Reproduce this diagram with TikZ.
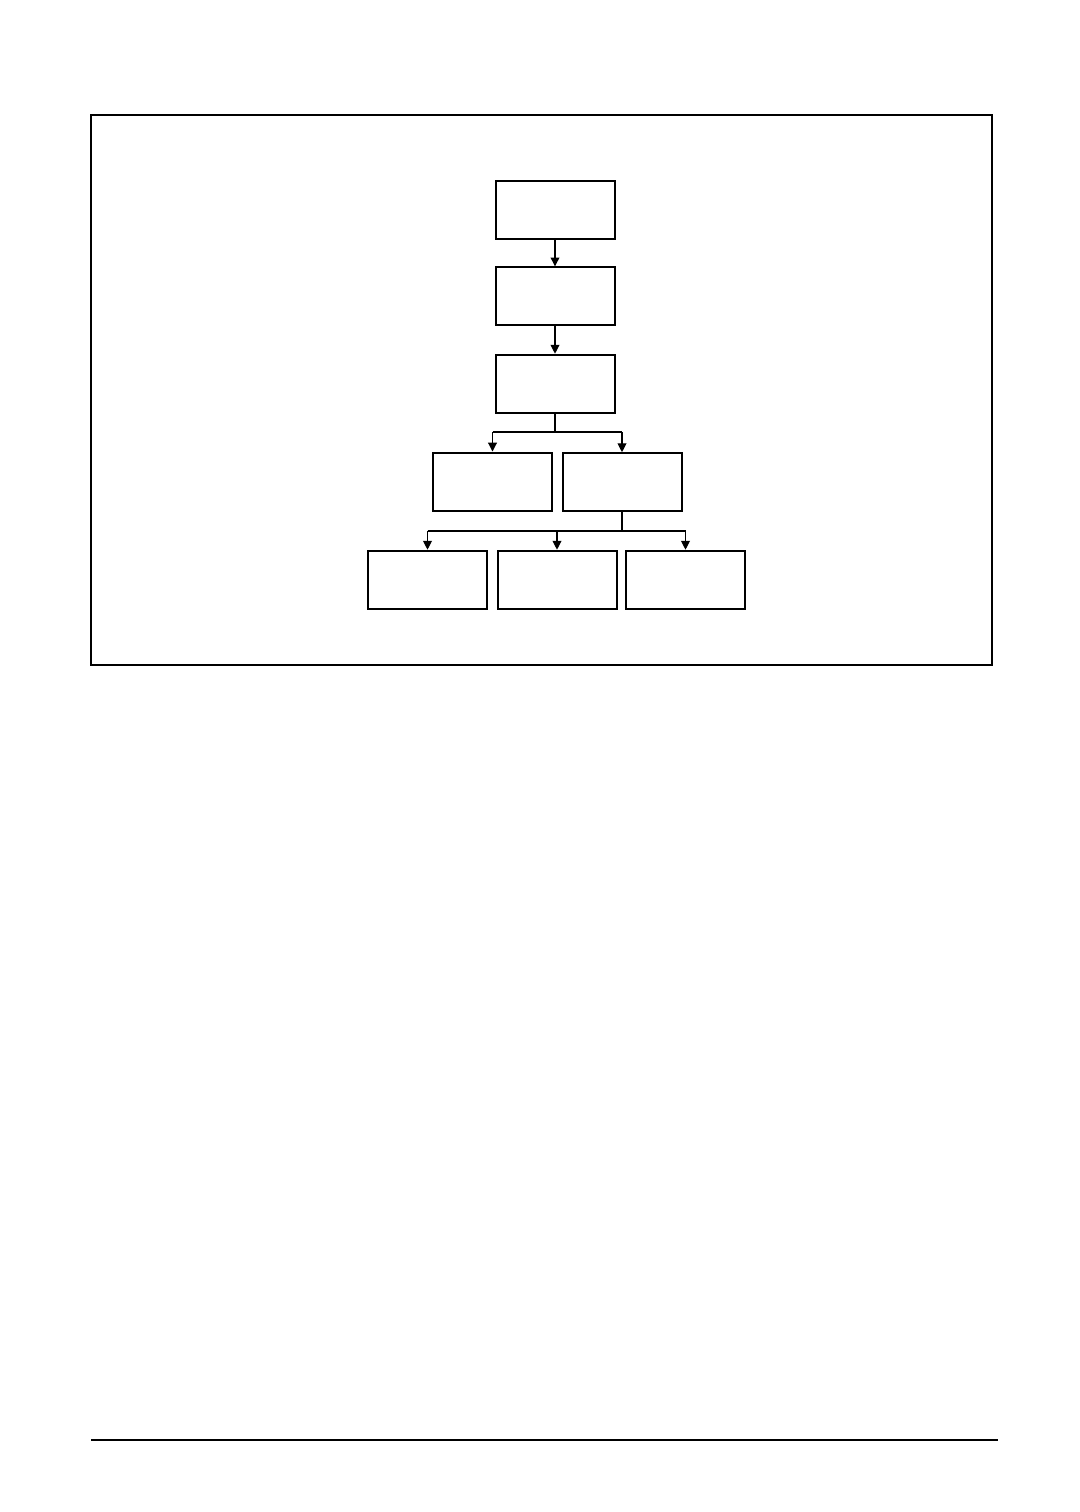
\documentclass[tikz,border=0pt]{standalone}
\usetikzlibrary{arrows.meta}
\begin{document}
\begin{tikzpicture}[x=0.5pt,y=-0.5pt,
  box/.style={draw,line width=1pt,rectangle,inner sep=0pt,minimum width=59.5pt,minimum height=29pt},
  conn/.style={line width=0.55pt},
  arr/.style={conn,-{Triangle[width=4.4pt,length=4.4pt]}}]
\useasboundingbox (0,0) rectangle (1080,1512);
\draw[line width=1pt] (91,115) rectangle (992,665);
\draw[line width=0.8pt] (91,1440) -- (998,1440);
\node[box] (b1) at (555,209.7) {};
\node[box] (b2) at (555,296.3) {};
\node[box] (b3) at (555,383.7) {};
\node[box] (b4) at (492.5,481.5) {};
\node[box] (b5) at (622,482.2) {};
\node[box] (b6) at (427.5,579.7) {};
\node[box] (b7) at (557,579.7) {};
\node[box] (b8) at (685.5,579.7) {};
\coordinate (j1) at (0,432);
\coordinate (j2) at (0,531);
\draw[arr] (b1.south) -- (b1.south |- b2.north);
\draw[arr] (b2.south) -- (b2.south |- b3.north);
\draw[conn] (b3.south) -- (b3.south |- j1);
\draw[conn] (j1 -| b4) -- (j1 -| b5);
\draw[arr] (j1 -| b4) -- (b4.north);
\draw[arr] (j1 -| b5) -- (b5.north);
\draw[conn] (b5.south) -- (b5.south |- j2);
\draw[conn] (j2 -| b6) -- (j2 -| b8);
\draw[arr] (j2 -| b6) -- (b6.north);
\draw[arr] (j2 -| b7) -- (b7.north);
\draw[arr] (j2 -| b8) -- (b8.north);
\end{tikzpicture}
\end{document}
